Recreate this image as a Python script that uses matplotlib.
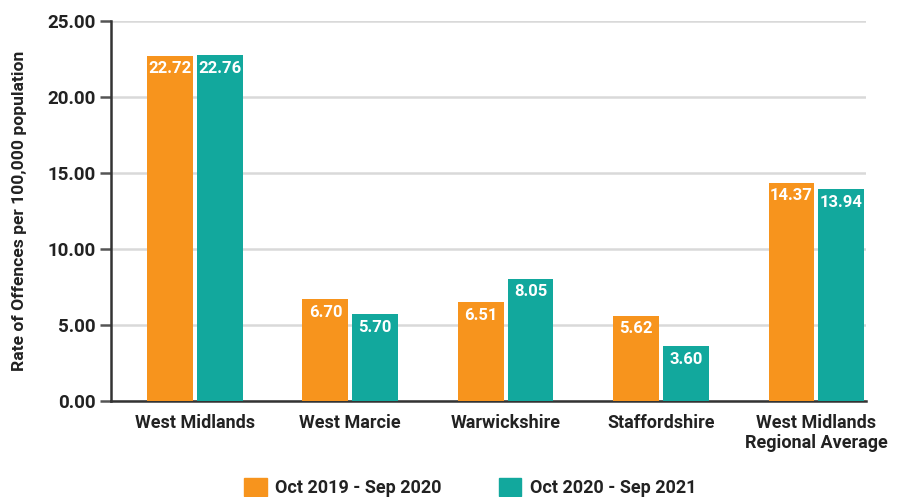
import matplotlib
matplotlib.use("Agg")
import matplotlib.pyplot as plt
import numpy as np
from matplotlib.patches import Patch

categories = ["West Midlands", "West Marcie", "Warwickshire", "Staffordshire", "West Midlands\nRegional Average"]
series_names = ["Oct 2019 - Sep 2020", "Oct 2020 - Sep 2021"]
values_2019 = [22.72, 6.70, 6.51, 5.62, 14.37]
values_2020 = [22.76, 5.70, 8.05, 3.60, 13.94]
yticks = [0, 5, 10, 15, 20, 25]

plt.rcParams['font.family'] = ['Roboto', 'DejaVu Sans']
plt.rcParams['font.weight'] = 'bold'

orange = "#F7941D"
teal = "#12A89D"
txt = "#222222"

fig = plt.figure(figsize=(8.97, 4.97), dpi=100)
ax = fig.add_axes([111/897, 96/497, 755/897, 380/497])

x = np.arange(len(categories))
w = 0.295
off = 0.16
b1 = ax.bar(x - off, values_2019, w, color=orange, zorder=3)
b2 = ax.bar(x + off, values_2020, w, color=teal, zorder=3)

for bars, vals in ((b1, values_2019), (b2, values_2020)):
    for r, v in zip(bars, vals):
        ax.annotate(f"{v:.2f}", (r.get_x() + r.get_width()/2, v), xytext=(0, -4),
                    textcoords="offset points", ha="center", va="top",
                    color="white", fontsize=12, fontweight="bold", zorder=4)

ax.set_xlim(-0.54, 4.32)
ax.set_ylim(0, 25)
ax.set_yticks(yticks)
ax.set_yticklabels([f"{t:.2f}" for t in yticks])
ax.set_xticks(x)
ax.set_xticklabels(categories, linespacing=1.2)
ax.tick_params(axis='y', length=8, width=1.8, color="#555555", labelsize=13.5, labelcolor=txt, pad=3)
ax.tick_params(axis='x', length=0, labelsize=13, labelcolor=txt, pad=9)
for lab in ax.get_xticklabels() + ax.get_yticklabels():
    lab.set_fontweight('bold')

ax.grid(axis='y', color="#d9d9d9", linewidth=1.8, zorder=0)
ax.set_axisbelow(True)
for s in ("top", "right"):
    ax.spines[s].set_visible(False)
for s in ("left", "bottom"):
    ax.spines[s].set_color("#333333")
    ax.spines[s].set_linewidth(1.8)

ax.set_ylabel("Rate of Offences per 100,000 population", fontsize=12.6, fontweight="bold", color=txt)
ax.yaxis.set_label_coords(-0.1235 + 9/755, 0.5)

handles = [Patch(color=orange), Patch(color=teal)]
fig.legend(handles, series_names, loc="center", bbox_to_anchor=(0.524, 0.019), ncol=2,
           frameon=False, handlelength=1.25, handleheight=1.2,
           handletextpad=0.45, columnspacing=3.2, labelcolor=txt,
           prop={'weight': 'bold', 'size': 13})

fig.savefig("out.png", dpi=100)
